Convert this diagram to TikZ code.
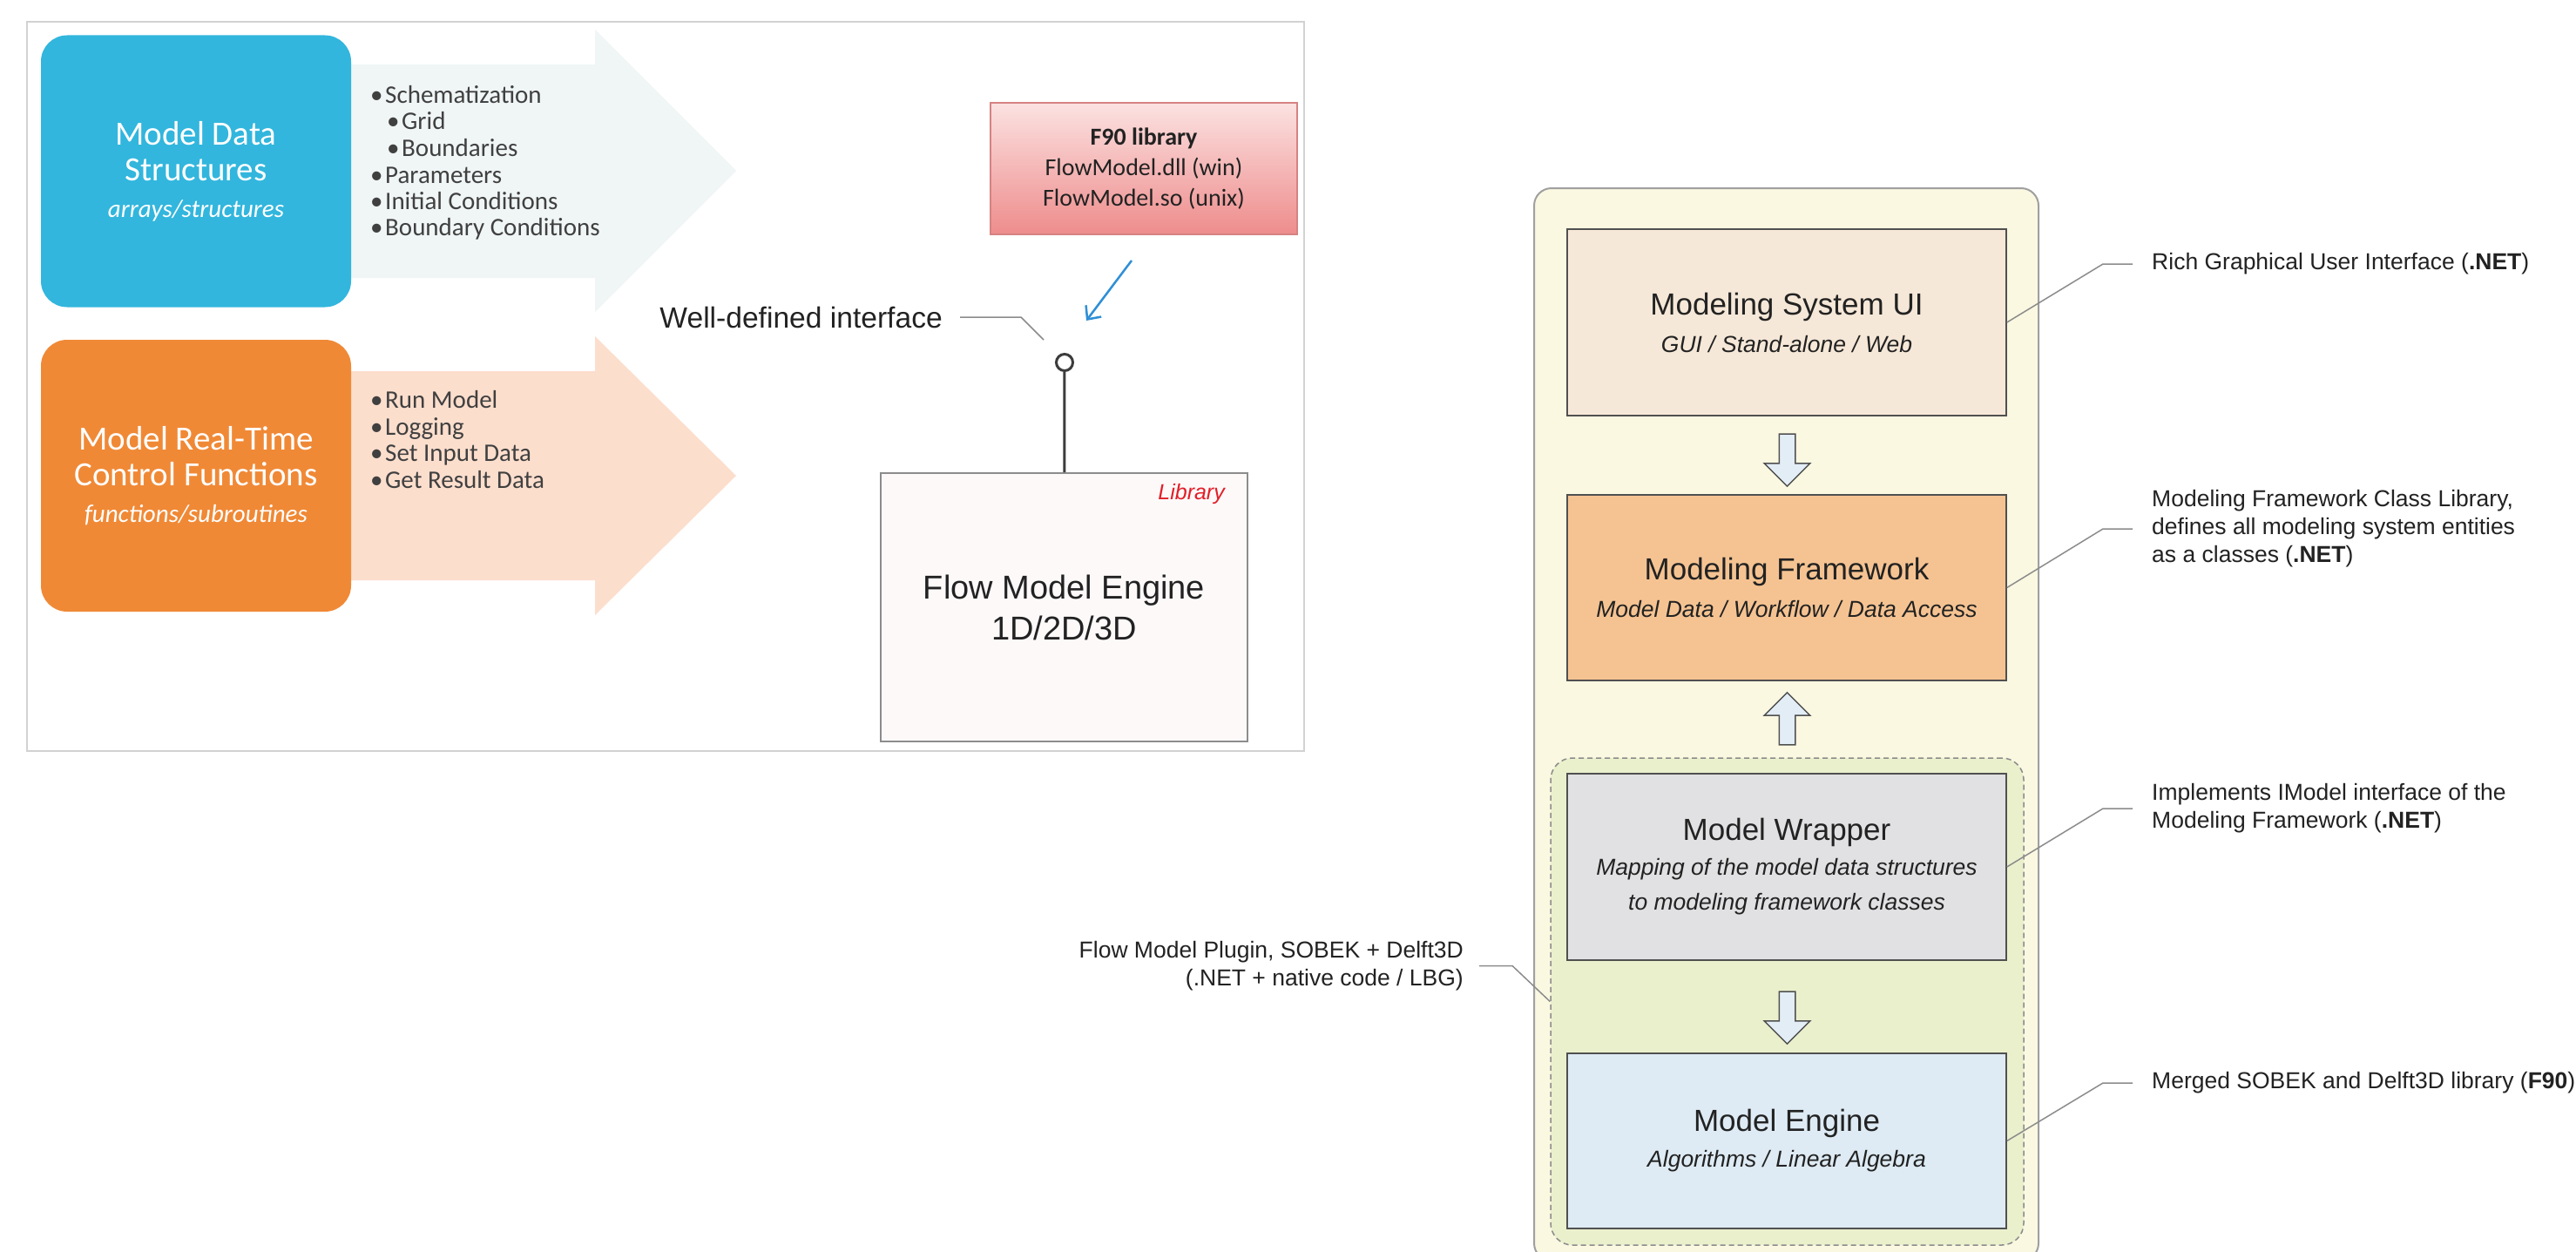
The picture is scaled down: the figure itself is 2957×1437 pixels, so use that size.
\documentclass[tikz,border=0pt]{standalone}
\usepackage{fontspec}
\setmainfont{Liberation Sans}
\newfontfamily\calibri{Carlito}
\usetikzlibrary{shapes.arrows,arrows.meta}

% Farben
\definecolor{mdsblau}{RGB}{50,182,221}
\definecolor{rtcorange}{RGB}{240,137,54}
\definecolor{pfeilblau}{RGB}{240,245,245}
\definecolor{pfeilorange}{RGB}{252,222,205}
\definecolor{textgrau}{RGB}{64,64,64}
\definecolor{rahmengrau}{RGB}{210,210,210}
\definecolor{flowrosa}{RGB}{253,249,249}
\definecolor{flowrand}{RGB}{140,140,140}
\definecolor{libraryrot}{RGB}{226,30,40}
\definecolor{f90oben}{RGB}{251,226,225}
\definecolor{f90unten}{RGB}{238,140,140}
\definecolor{f90rand}{RGB}{214,130,130}
\definecolor{pfeillinie}{RGB}{47,143,214}
\definecolor{stielgrau}{RGB}{60,60,60}
\definecolor{creme}{RGB}{250,248,225}
\definecolor{cremerand}{RGB}{160,160,160}
\definecolor{gruenlich}{RGB}{234,240,204}
\definecolor{uifarbe}{RGB}{246,232,216}
\definecolor{fwfarbe}{RGB}{245,195,146}
\definecolor{wrapfarbe}{RGB}{225,225,227}
\definecolor{engfarbe}{RGB}{222,235,244}
\definecolor{kastenrand}{RGB}{80,80,80}
\definecolor{notizgrau}{RGB}{140,140,140}
\definecolor{schrift}{RGB}{34,34,34}
\definecolor{blockpfeilfarbe}{RGB}{226,237,246}

\newcommand\unterzeile{\itshape\fontsize{26.5}{40}\selectfont}
\newcommand\kursivzeile{\itshape\fontsize{29}{41}\selectfont}

\begin{document}
\begin{tikzpicture}[x=1pt,y=-1pt,
    eckig/.style={rounded corners=30pt,minimum width=356pt,minimum height=312pt,
        text=white,align=center,inner sep=0pt,font=\calibri\fontsize{39}{41}\selectfont},
    punkte/.style={anchor=base west,inner sep=0pt,text=textgrau,
        font=\calibri\fontsize{29}{30}\selectfont},
    kasten/.style={draw=kastenrand,line width=1.5pt,minimum width=504pt,inner sep=0pt,
        align=center,text=schrift,font=\fontsize{35}{40}\selectfont},
    blockpfeil/.style={single arrow,draw=kastenrand,fill=blockpfeilfarbe,line width=1.5pt,
        inner sep=8.5pt,minimum height=60pt,single arrow head extend=17pt,
        single arrow tip angle=90},
    notiz/.style={inner sep=0pt,text=schrift,font=\fontsize{26.5}{32}\selectfont},
    notizlinie/.style={draw=notizgrau,line width=1.5pt},
  ]
    % Hintergrund
    \useasboundingbox[fill=white] (0,0) rectangle (2957,1437);
    % Linkes Bild: Rahmen
    \draw[rahmengrau,line width=1.5pt] (31,25) rectangle (1497,862);
    % Pfeile hinter den Kaesten
    \fill[pfeilblau] (390,74) -- (683,74) -- (683,34) -- (845,196)
        -- (683,358) -- (683,319) -- (390,319) -- cycle;
    \fill[pfeilorange] (390,426) -- (683,426) -- (683,386) -- (845,546)
        -- (683,706) -- (683,666) -- (390,666) -- cycle;
    % Kaesten links
    \node[eckig,fill=mdsblau] (mds) at (225,196.5)
        {Model Data\\Structures\\[1pt]{\kursivzeile arrays/structures}};
    \node[eckig,fill=rtcorange] (rtc) at (225,546)
        {Model Real-Time\\Control Functions\\[1pt]{\kursivzeile functions/subroutines}};
    % Aufzaehlungen
    \foreach \t/\x/\y [count=\i] in {Schematization/425/109, Grid/444/139,
        Boundaries/444/170, Parameters/425/201, Initial Conditions/425/231,
        Boundary Conditions/425/261}
        \node[punkte] (mdspkt\i) at (\x,\y+9.5) {\makebox[17pt][l]{\textbullet}\t};
    \foreach \t/\y [count=\i] in {Run Model/459, Logging/490, Set Input Data/520,
        Get Result Data/551}
        \node[punkte] (rtcpkt\i) at (425,\y+9.5) {\makebox[17pt][l]{\textbullet}\t};
    % F90 Bibliothek
    \node[draw=f90rand,line width=1.5pt,top color=f90oben,bottom color=f90unten,
        minimum width=352pt,minimum height=151pt,align=center,inner sep=0pt,
        text=schrift,font=\calibri\fontsize{28}{35}\selectfont] (f90) at (1313,193.5)
        {\textbf{F90 library}\\FlowModel.dll (win)\\FlowModel.so (unix)};
    \coordinate (f90pfeil) at (1299,299);
    \coordinate (ifacepfeil) at (1247,368);
    \draw[pfeillinie,line width=2.5pt,-{Straight Barb[length=12pt,width=22pt]}]
        (f90pfeil) -- (ifacepfeil);
    % Engine mit Schnittstelle
    \node[draw=flowrand,line width=2pt,fill=flowrosa,minimum width=421pt,
        minimum height=308pt,align=center,inner sep=0pt,text=schrift,
        font=\fontsize{38}{47}\selectfont] (flow) at (1221.5,697)
        {Flow Model Engine\\1D/2D/3D};
    \node[anchor=north east,inner sep=0pt,text=libraryrot,
        font=\itshape\fontsize{25}{30}\selectfont] (lib)
        at ([xshift=-27pt,yshift=-13pt]flow.north east) {Library};
    \node[circle,draw=stielgrau,fill=white,line width=3pt,minimum size=19pt,
        inner sep=0pt] (iface) at (1222,416) {};
    \draw[stielgrau,line width=3pt] (iface) -- (flow);
    \node[anchor=east,inner sep=0pt,text=schrift,
        font=\fontsize{33.6}{40}\selectfont] (wdi) at (1082,364) {Well-defined interface};
    \coordinate (wdiende) at (1198,390);
    \draw[notizlinie] ([xshift=20pt]wdi.east) -- ([xshift=90pt]wdi.east) -- (wdiende);

    % Rechtes Bild: Rahmen
    \node[draw=cremerand,line width=2pt,fill=creme,rounded corners=20pt,
        minimum width=579pt,minimum height=1231pt,inner sep=0pt] (system)
        at (2050.5,831.5) {};
    \node[draw=notizgrau,dash pattern=on 6pt off 4pt,line width=1.5pt,fill=gruenlich,
        rounded corners=25pt,minimum width=543pt,minimum height=559pt,inner sep=0pt]
        (plugin) at (2051.5,1149.5) {};
    % Schichten
    \node[kasten,fill=uifarbe,minimum height=214pt] (ui) at (2051,370)
        {Modeling System UI\\[3pt]{\unterzeile GUI / Stand-alone / Web}};
    \node[kasten,fill=fwfarbe,minimum height=213pt] (fw) at (2051,674.5)
        {Modeling Framework\\[3pt]{\unterzeile Model Data / Workflow / Data Access}};
    \node[kasten,fill=wrapfarbe,minimum height=214pt] (wrap) at (2051,995)
        {Model Wrapper\\{\unterzeile Mapping of the model data structures}\\
        {\unterzeile to modeling framework classes}};
    \node[kasten,fill=engfarbe,minimum height=201pt] (eng) at (2051,1309.5)
        {Model Engine\\[1pt]{\unterzeile Algorithms / Linear Algebra}};
    % Blockpfeile
    \node[blockpfeil,shape border rotate=270] (p1) at (2051.5,523.5) {};
    \node[blockpfeil,shape border rotate=90] (p2) at (2051.5,829.5) {};
    \node[blockpfeil,shape border rotate=270] (p3) at (2051.5,1163.5) {};
    % Notizen
    \node[notiz,anchor=west] (n1) at (2470,303)
        {Rich Graphical User Interface (\textbf{.NET})};
    \node[notiz,anchor=west,align=left] (n2) at (2470,607)
        {Modeling Framework Class Library,\\defines all modeling system entities\\as a classes (\textbf{.NET})};
    \node[notiz,anchor=west,align=left] (n3) at (2470,928)
        {Implements IModel interface of the\\Modeling Framework (\textbf{.NET})};
    \node[notiz,anchor=west] (n4) at (2470,1243)
        {Merged SOBEK and Delft3D library (\textbf{F90})};
    \node[notiz,anchor=east,align=right] (n5) at (1680,1108.5)
        {Flow Model Plugin, SOBEK + Delft3D\\(.NET + native code / LBG)};
    \draw[notizlinie] (ui.east) -- ([xshift=-56pt]n1.west) -- ([xshift=-22pt]n1.west);
    \draw[notizlinie] (fw.east) -- ([xshift=-56pt]n2.west) -- ([xshift=-22pt]n2.west);
    \draw[notizlinie] (wrap.east) -- ([xshift=-56pt]n3.west) -- ([xshift=-22pt]n3.west);
    \draw[notizlinie] (eng.east) -- ([xshift=-56pt]n4.west) -- ([xshift=-22pt]n4.west);
    \draw[notizlinie] ([xshift=18pt]n5.east) -- ([xshift=56pt]n5.east) -- (plugin.west);
\end{tikzpicture}
\end{document}
